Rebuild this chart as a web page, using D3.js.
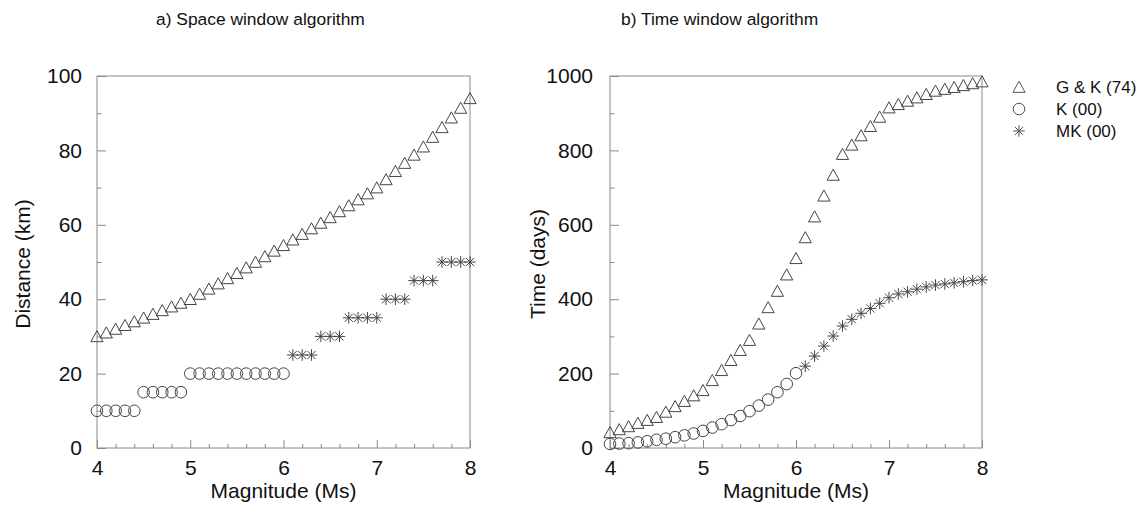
<!DOCTYPE html>
<html>
<head>
<meta charset="utf-8">
<script src="https://cdn.jsdelivr.net/npm/d3@7"></script>
<style>
  html, body { margin: 0; padding: 0; background: #fff; }
  svg { display: block; font-family: "Liberation Sans", Arial, sans-serif; }
</style>
</head>
<body>
<svg id="chart" width="1141" height="506"></svg>
<script>
// ---------------- DATA ----------------
const magnitudes = [4.0,4.1,4.2,4.3,4.4,4.5,4.6,4.7,4.8,4.9,5.0,5.1,5.2,5.3,5.4,5.5,5.6,5.7,5.8,5.9,6.0,
                    6.1,6.2,6.3,6.4,6.5,6.6,6.7,6.8,6.9,7.0,7.1,7.2,7.3,7.4,7.5,7.6,7.7,7.8,7.9,8.0];
const kMagnitudes  = [4.0,4.1,4.2,4.3,4.4,4.5,4.6,4.7,4.8,4.9,5.0,5.1,5.2,5.3,5.4,5.5,5.6,5.7,5.8,5.9,6.0];
const mkMagnitudes = [6.1,6.2,6.3,6.4,6.5,6.6,6.7,6.8,6.9,7.0,7.1,7.2,7.3,7.4,7.5,7.6,7.7,7.8,7.9,8.0];

// a) Space window (km)
const gkDistance = [30.0,31.0,32.0,33.0,34.0,35.0,36.0,37.0,38.0,39.0,40.0,41.4,42.8,44.2,45.6,47.0,48.5,50.0,51.5,53.0,54.5,
                    56.0,57.5,59.0,60.5,62.0,63.6,65.2,66.8,68.4,70.0,72.2,74.4,76.6,78.8,81.0,83.6,86.2,88.8,91.4,94.0];
const kDistance  = [10,10,10,10,10,15,15,15,15,15,20,20,20,20,20,20,20,20,20,20,20];
const mkDistance = [25,25,25,30,30,30,35,35,35,35,40,40,40,45,45,45,50,50,50,50];

// b) Time window (days)
const gkTime = [42,50,58,67,75,83,97,112,126,141,155,182,209,236,263,290,334,378,422,466,510,
                566,622,678,734,790,815,840,865,890,915,924,933,942,951,960,965,970,975,980,985];
const kTime  = [11,12,13,15,18,22,25,29,34,39,46,55,64,75,86,99,114,130,150,172,201];
const mkTime = [220,247,274,301,328,346,362,375,389,404,414,420,427,433,438,441,444,447,450,452];

const xTicksMajor = [4,5,6,7,8];
const xTicksMinor = [4.2,4.4,4.6,4.8,5.2,5.4,5.6,5.8,6.2,6.4,6.6,6.8,7.2,7.4,7.6,7.8];
const yTicksA = [0,20,40,60,80,100];
const yMinorA = [10,30,50,70,90];
const yTicksB = [0,200,400,600,800,1000];
const yMinorB = [100,300,500,700,900];

const titles = ["a) Space window algorithm", "b) Time window algorithm"];
const xLabel = "Magnitude (Ms)";
const yLabels = ["Distance (km)", "Time (days)"];
const legendNames = ["G & K (74)", "K (00)", "MK (00)"];

// ---------------- DRAW ----------------
const svg = d3.select("#chart");
const markColor = "#454545";
const frameColor = "#8a8a8a";
const textColor = "#111";
const FS = 21;

const tri = "M0,-5.8L6.1,5.3L-6.1,5.3Z";
const circ = d3.symbol().type(d3.symbolCircle).size(Math.PI * 5.8 * 5.8)();
const ast = (() => { const r = 5.8, d = r * 0.7071;
  return `M0,${-r}L0,${r}M${-r},0L${r},0M${-d},${-d}L${d},${d}M${-d},${d}L${d},${-d}`; })();

function panel(cfg) {
  const x = d3.scaleLinear().domain([4, 8]).range([cfg.left, cfg.right]);
  const y = d3.scaleLinear().domain([0, cfg.yMax]).range([448, 76]);
  const g = svg.append("g");

  // frame
  g.append("rect").attr("x", cfg.left).attr("y", 76)
    .attr("width", cfg.right - cfg.left).attr("height", 448 - 76)
    .attr("fill", "none").attr("stroke", frameColor).attr("stroke-width", 1);

  // axes (ticks pointing inward)
  const xa = g.append("g").attr("transform", "translate(0,448)")
    .call(d3.axisBottom(x).tickValues(xTicksMajor).tickSizeInner(-8).tickSizeOuter(0).tickPadding(12).tickFormat(d3.format("d")));
  const xm = g.append("g").attr("transform", "translate(0,448)")
    .call(d3.axisBottom(x).tickValues(xTicksMinor).tickSizeInner(-4).tickSizeOuter(0).tickFormat(""));
  const ya = g.append("g").attr("transform", `translate(${cfg.left},0)`)
    .call(d3.axisLeft(y).tickValues(cfg.yTicks).tickSizeInner(-9).tickSizeOuter(0).tickPadding(cfg.yPad).tickFormat(d3.format("d")));
  const ym = g.append("g").attr("transform", `translate(${cfg.left},0)`)
    .call(d3.axisLeft(y).tickValues(cfg.yMinor).tickSizeInner(-4.5).tickSizeOuter(0).tickFormat(""));
  [xa, xm, ya, ym].forEach(a => {
    a.select(".domain").remove();
    a.selectAll(".tick line").attr("stroke", frameColor);
    a.selectAll("text").attr("font-size", FS).attr("fill", textColor).attr("font-family", "Liberation Sans, Arial, sans-serif");
  });

  // labels
  g.append("text").attr("x", (cfg.left + cfg.right) / 2).attr("y", 498)
    .attr("text-anchor", "middle").attr("font-size", FS).attr("fill", textColor).text(xLabel);
  g.append("text").attr("transform", `translate(${cfg.yLabelX},264) rotate(-90)`)
    .attr("text-anchor", "middle").attr("dy", "0.35em").attr("font-size", FS).attr("fill", textColor).text(cfg.yLabel);
  g.append("text").attr("x", cfg.titleX).attr("y", 25)
    .attr("font-size", 17.4).attr("fill", textColor).text(cfg.title);

  // series
  const series = [
    {mags: magnitudes, vals: cfg.gk, path: tri},
    {mags: kMagnitudes, vals: cfg.k, path: circ},
    {mags: mkMagnitudes, vals: cfg.mk, path: ast}
  ];
  series.forEach(s => {
    g.append("g").selectAll("path").data(s.mags.map((m, i) => [m, s.vals[i]])).join("path")
      .attr("d", s.path)
      .attr("transform", d => `translate(${x(d[0])},${y(d[1])})`)
      .attr("fill", "none").attr("stroke", markColor).attr("stroke-width", 1);
  });
}

panel({left: 97, right: 470, yMax: 100, yTicks: yTicksA, yMinor: yMinorA, yPad: 15,
       gk: gkDistance, k: kDistance, mk: mkDistance, yLabel: yLabels[0], yLabelX: 23,
       title: titles[0], titleX: 156});
panel({left: 610, right: 982, yMax: 1000, yTicks: yTicksB, yMinor: yMinorB, yPad: 17,
       gk: gkTime, k: kTime, mk: mkTime, yLabel: yLabels[1], yLabelX: 538,
       title: titles[1], titleX: 621});

// legend
const legY = d3.scaleBand().domain(legendNames).range([76, 142]);
const legPaths = [tri, circ, ast];
const leg = svg.append("g");
legendNames.forEach((n, i) => {
  const cy = legY(n) + legY.bandwidth() / 2;
  leg.append("path").attr("d", legPaths[i]).attr("transform", `translate(1019,${cy})`)
    .attr("fill", "none").attr("stroke", "#555").attr("stroke-width", 1);
  leg.append("text").attr("x", 1056).attr("y", cy).attr("dy", "0.35em")
    .attr("font-size", 17).attr("fill", textColor).text(n);
});
</script>
</body>
</html>
